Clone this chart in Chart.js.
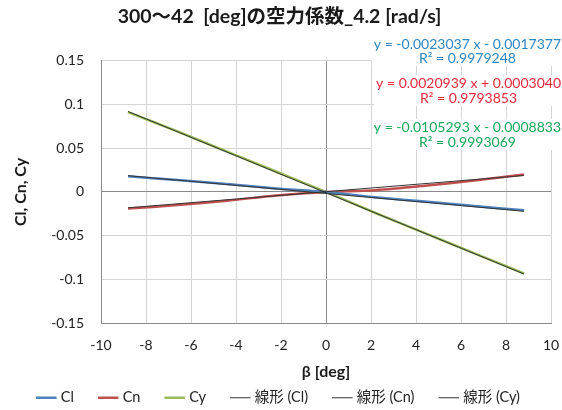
<!DOCTYPE html>
<html>
<head>
<meta charset="utf-8">
<script src="https://cdn.jsdelivr.net/npm/chart.js@4.4.1/dist/chart.umd.min.js"></script>
<style>
html, body { margin: 0; padding: 0; background: #fff; }
</style>
</head>
<body>
<canvas id="myChart" width="562" height="410"></canvas>
<script>
var beta = [-8.8, -6.6, -4.4, -2.2, 0, 2.2, 4.4, 6.6, 8.8];
var cl = [0.018, 0.0135, 0.009, 0.004, 0, -0.006, -0.011, -0.016, -0.021];
var cn = [-0.019, -0.015, -0.010, -0.004, 0, 0.002, 0.007, 0.013, 0.020];
var cy = [0.091, 0.069, 0.046, 0.023, 0, -0.024, -0.047, -0.070, -0.093];

// trendline coefficients (from the equations on the chart)
var trendSlope = [-0.0023037, 0.0020939, -0.0105293];
var trendIntercept = [-0.0017377, 0.0003040, -0.0008833];
var trendR2 = ['0.9979248', '0.9793853', '0.9993069'];
var eqColors = ['#2e86c1', '#e8283c', '#17a85a'];

var xTicks = [-10, -8, -6, -4, -2, 0, 2, 4, 6, 8, 10];
var yTicks = [-0.15, -0.1, -0.05, 0, 0.05, 0.1, 0.15];

var latin = "Lato, 'Noto Sans CJK JP', sans-serif";

function pts(ys) {
    return beta.map(function (b, i) { return { x: b, y: ys[i] }; });
}
function trend(k) {
    var x0 = beta[0], x1 = beta[beta.length - 1];
    return [
        { x: x0, y: trendSlope[k] * x0 + trendIntercept[k] },
        { x: x1, y: trendSlope[k] * x1 + trendIntercept[k] }
    ];
}
function fmtCoef(v) {
    return (v < 0 ? '- ' : '+ ') + Math.abs(v).toFixed(7);
}

// equation labels, like Excel's trendline labels
const eqLabels = {
    id: 'eqLabels',
    afterDatasetsDraw(chart) {
        const c = chart.ctx;
        const rows = [[44, 58], [83, 98], [127, 142]];
        c.save();
        c.font = '14px ' + latin;
        c.textBaseline = 'middle';
        for (let k = 0; k < 3; k++) {
            const eq = 'y = ' + (trendSlope[k] < 0 ? '-' : '') + Math.abs(trendSlope[k]).toFixed(7) + ' x ' + fmtCoef(trendIntercept[k]);
            const r2 = 'R² = ' + trendR2[k];
            const w = c.measureText(eq).width;
            const right = 561;
            c.fillStyle = '#ffffff';
            c.fillRect(right - w - 2, rows[k][0] - 8, w + 4, rows[k][1] - rows[k][0] + 16);
            c.fillStyle = eqColors[k];
            c.textAlign = 'right';
            c.fillText(eq, right, rows[k][0]);
            c.textAlign = 'center';
            c.fillText(r2, right - w / 2, rows[k][1]);
        }
        c.restore();
    }
};

const ctx = document.getElementById('myChart');

let chart = new Chart(ctx, {
    type: 'line',
    data: {
        datasets: [
            { label: 'Cl', data: pts(cl), borderColor: '#4f81bd', backgroundColor: '#4f81bd', borderWidth: 2.5, pointRadius: 0, tension: 0.3, order: 1 },
            { label: 'Cn', data: pts(cn), borderColor: '#c0504d', backgroundColor: '#c0504d', borderWidth: 2.5, pointRadius: 0, tension: 0.3, order: 1 },
            { label: 'Cy', data: pts(cy), borderColor: '#9bbb59', backgroundColor: '#9bbb59', borderWidth: 2.5, pointRadius: 0, tension: 0.3, order: 1 },
            { label: '線形 (Cl)', data: trend(0), borderColor: '#333', backgroundColor: '#333', borderWidth: 1, pointRadius: 0, order: 0 },
            { label: '線形 (Cn)', data: trend(1), borderColor: '#333', backgroundColor: '#333', borderWidth: 1, pointRadius: 0, order: 0 },
            { label: '線形 (Cy)', data: trend(2), borderColor: '#333', backgroundColor: '#333', borderWidth: 1, pointRadius: 0, order: 0 }
        ]
    },
    options: {
        responsive: false,
        animation: false,
        layout: { padding: { left: 8, right: 11, top: 0, bottom: -5 } },
        plugins: {
            title: {
                display: true,
                text: '300～42  [deg]の空力係数_4.2 [rad/s]',
                color: '#1a1a1a',
                font: { size: 19.5, weight: 'bold', family: latin },
                padding: { top: 5, bottom: 32 }
            },
            legend: {
                position: 'bottom',
                labels: {
                    usePointStyle: true,
                    pointStyle: 'line',
                    boxWidth: 26,
                    padding: 27,
                    color: '#222',
                    font: { size: 14.5, family: latin },
                    sort: function (a, b) { return a.datasetIndex - b.datasetIndex; }
                }
            },
            tooltip: { enabled: false }
        },
        scales: {
            x: {
                type: 'linear',
                min: -10,
                max: 10,
                afterBuildTicks: function (s) { s.ticks = xTicks.map(function (v) { return { value: v }; }); },
                afterFit: function (s) { s.height = 40; s.paddingLeft = 0; s.paddingRight = 0; },
                ticks: { color: '#222', font: { size: 14, family: latin }, padding: 14 },
                grid: {
                    color: function (c) { return c.tick && c.tick.value === 0 ? '#8a8a8a' : '#d4d4d4'; },
                    drawTicks: false
                },
                border: { color: '#8a8a8a' },
                title: { display: true, text: 'β [deg]', color: '#1a1a1a', font: { size: 16, weight: 'bold', family: latin }, padding: { top: 5, bottom: -17.5 } }
            },
            y: {
                type: 'linear',
                min: -0.15,
                max: 0.15,
                afterBuildTicks: function (s) { s.ticks = yTicks.map(function (v) { return { value: v }; }); },
                afterFit: function (s) { s.width = 93; },
                ticks: {
                    color: '#222',
                    font: { size: 14, family: latin },
                    padding: 17,
                    callback: function (v) { return String(+v.toFixed(2)); }
                },
                grid: {
                    color: function (c) { return c.tick && c.tick.value === 0 ? '#8a8a8a' : '#d4d4d4'; },
                    drawTicks: false
                },
                border: { color: '#8a8a8a' },
                title: { display: true, text: 'Cl, Cn, Cy', color: '#1a1a1a', font: { size: 16, weight: 'bold', family: latin }, padding: { top: 3, bottom: 0 } }
            }
        }
    },
    plugins: [eqLabels]
});
</script>
</body>
</html>
